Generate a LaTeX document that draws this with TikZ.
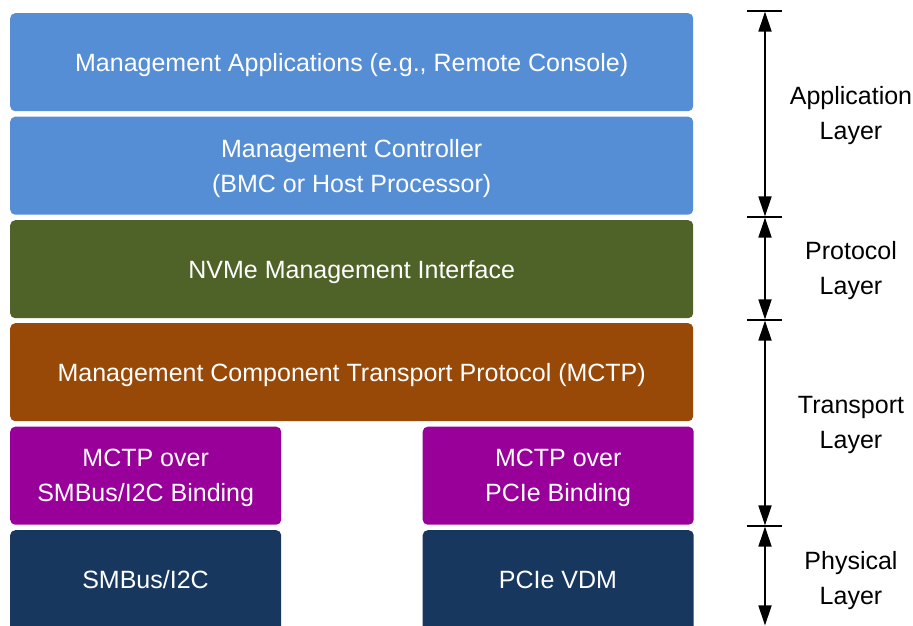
\documentclass[tikz,border=0pt]{standalone}
\usepackage{fontspec}
\setmainfont{Liberation Sans}
\usetikzlibrary{arrows.meta}
\definecolor{appblue}{HTML}{558ED5}
\definecolor{protgreen}{HTML}{4F6228}
\definecolor{mctpbrown}{HTML}{984807}
\definecolor{bindpurple}{HTML}{990099}
\definecolor{phynavy}{HTML}{17375E}
\tikzset{
  layerbox/.style={rounded corners=5pt, inner sep=0pt, anchor=north west},
  widebox/.style={layerbox, minimum width=683pt, minimum height=98pt},
  halfbox/.style={layerbox, minimum width=271pt, minimum height=98pt},
  boxtext/.style={align=center, text=white, inner sep=0pt, yshift=-2.5pt,
    font=\fontsize{25}{35}\selectfont},
  layerlabel/.style={align=center, font=\fontsize{25}{35}\selectfont, text=black},
  span/.style={line width=1.8pt, {Triangle[length=20pt,width=13pt]}-{Triangle[length=20pt,width=13pt]}, shorten <=0.6pt, shorten >=0.6pt},
  tick/.style={line width=1.6pt}
}
\begin{document}
\begin{tikzpicture}[x=1pt,y=-1pt]
\useasboundingbox (0,0) rectangle (913,625);
\clip (0,0) rectangle (913,625);
\node[widebox, fill=appblue] (apps) at (10,13) {};
\node[widebox, fill=appblue] (mc) at (10,116.5) {};
\node[widebox, fill=protgreen] (nvme) at (10,220) {};
\node[widebox, fill=mctpbrown] (mctp) at (10,323) {};
\node[halfbox, fill=bindpurple] (smbind) at (10,426.5) {};
\node[halfbox, fill=bindpurple] (pcibind) at (422.5,426.5) {};
\node[halfbox, fill=phynavy, minimum height=110pt] (smbus) at (10,530) {};
\node[halfbox, fill=phynavy, minimum height=110pt] (pcie) at (422.5,530) {};

\node[boxtext] (appstxt) at (apps.center) {Management Applications (e.g., Remote Console)};
\node[boxtext] (mctxt) at (mc.center) {Management Controller\\(BMC or Host Processor)};
\node[boxtext] (nvmetxt) at (nvme.center) {NVMe Management Interface};
\node[boxtext] (mctptxt) at (mctp.center) {Management Component Transport Protocol (MCTP)};
\node[boxtext] (smbindtxt) at (smbind.center) {MCTP over\\SMBus/I2C Binding};
\node[boxtext] (pcibindtxt) at (pcibind.center) {MCTP over\\PCIe Binding};
\node[boxtext] (smbustxt) at (145.5,577.5) {SMBus/I2C};
\node[boxtext] (pcietxt) at (558,577.5) {PCIe VDM};

\coordinate (t0) at (765,11);
\coordinate (t1) at (765,217);
\coordinate (t2) at (765,320);
\coordinate (t3) at (765,526);
\coordinate (t4) at (765,626);
\foreach \t in {t0,t1,t2,t3}
  \draw[tick] ([xshift=-18pt]\t) -- ([xshift=17pt]\t);
\draw[span] (t0) -- (t1);
\draw[span] (t1) -- (t2);
\draw[span] (t2) -- (t3);
\draw[span] (t3) -- (t4);

\node[layerlabel] (applayer) at (851,116) {Application\\Layer};
\node[layerlabel] (protlayer) at (851,271) {Protocol\\Layer};
\node[layerlabel] (translayer) at (851,425) {Transport\\Layer};
\node[layerlabel] (phylayer) at (851,580.5) {Physical\\Layer};
\end{tikzpicture}
\end{document}
